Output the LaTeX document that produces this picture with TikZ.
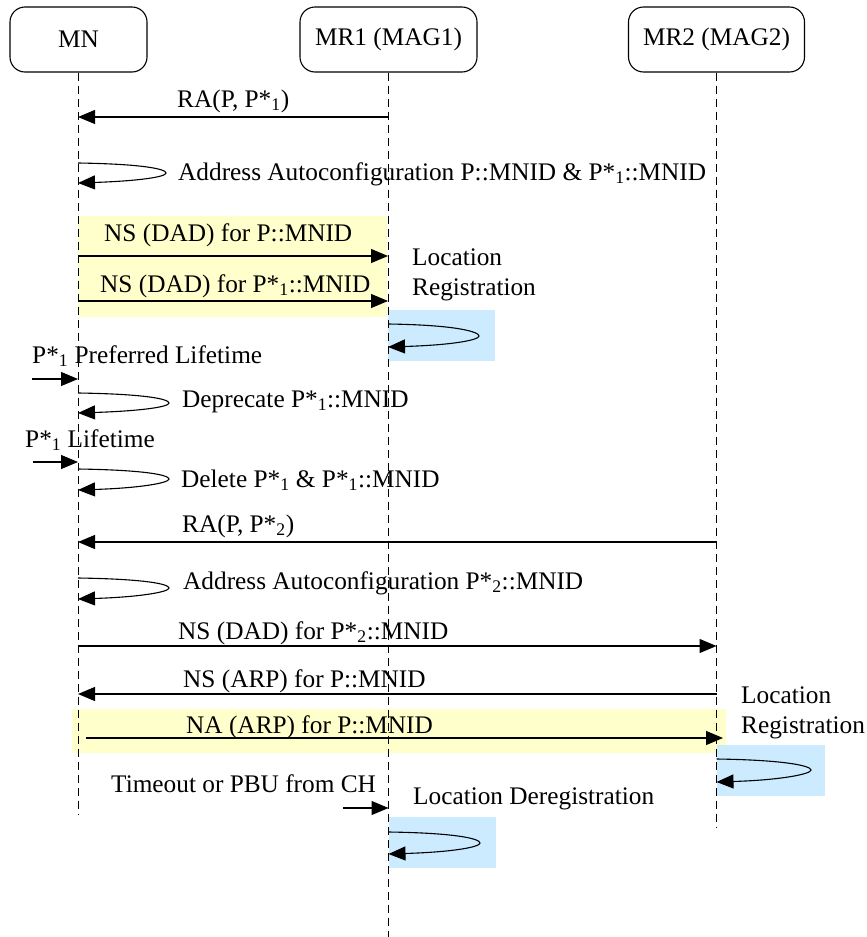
\documentclass[tikz,border=0pt]{standalone}
\usepackage{fontspec}
\setmainfont{Liberation Serif}
\usetikzlibrary{arrows.meta}
\newcommand{\lsub}[1]{\textsubscript{#1}}
\definecolor{hlyellow}{HTML}{FFFFCC}
\definecolor{hlblue}{HTML}{CCEBFF}
\begin{document}
\begin{tikzpicture}[x=1pt,y=-1pt,
  font=\fontsize{25.3}{30}\selectfont,
  head/.style={draw,rounded corners=15pt,line width=1.1pt,minimum height=65pt,inner sep=0pt},
  life/.style={line width=1pt,dash pattern=on 8pt off 5pt},
  msg/.style={line width=1.1pt,-{Triangle[length=17pt,width=14pt]}},
  lbl/.style={anchor=base west,inner sep=0pt},
  yband/.style={fill=hlyellow,draw=none},
  bband/.style={fill=hlblue,draw=none}]
\useasboundingbox (0,0) rectangle (867,937);
\fill[white] (0,0) rectangle (867,937);
% highlight bands
\path[yband] (78,216) rectangle (387,317);
\path[yband] (72,709) rectangle (726,753);
\path[bband] (388,310) rectangle (495,361);
\path[bband] (717,745) rectangle (825,796);
\path[bband] (389,817) rectangle (496,868);
% heads
\node[head,minimum width=137pt] (mn) at (78.5,39.5) {MN};
\node[head,minimum width=177pt] (mr1) at (388.5,39.5) {MR1 (MAG1)};
\node[head,minimum width=176pt] (mr2) at (716.5,39.5) {MR2 (MAG2)};
% lifelines
\coordinate (mnend) at (78.5,815);
\coordinate (mr1end) at (388.5,937);
\coordinate (mr2end) at (716.5,828);
\draw[life] (mn.south) -- (mnend);
\draw[life] (mr1.south) -- (mr1end);
\draw[life] (mr2.south) -- (mr2end);
% RA(P,P*1)
\coordinate (a1s) at (388,117); \coordinate (a1e) at (78,117);
\draw[msg] (a1s) -- (a1e);
\node[lbl] (t1) at (177,107) {RA(P, P*\lsub{1})};
% loop 1
\coordinate (l1a) at (78,163); \coordinate (l1t) at (166,173); \coordinate (l1b) at (78,183);
\draw[msg] (l1a) .. controls +(65,1) and +(0,-4) .. (l1t) .. controls +(0,4) and +(60,-2) .. (l1b);
\node[lbl] (t2) at (178,180) {Address Autoconfiguration P::MNID \& P*\lsub{1}::MNID};
% NS DAD
\coordinate (a2s) at (78,256); \coordinate (a2e) at (388,256);
\draw[msg] (a2s) -- (a2e);
\node[lbl] (t3) at (104,241) {NS (DAD) for P::MNID};
\coordinate (a3s) at (78,301); \coordinate (a3e) at (388,301);
\draw[msg] (a3s) -- (a3e);
\node[lbl] (t4) at (100,292) {NS (DAD) for P*\lsub{1}::MNID};
\node[lbl] (t5) at (412,265) {Location};
\node[lbl] (t6) at (412,295) {Registration};
% loop MR1
\coordinate (l2a) at (388,324); \coordinate (l2t) at (479,336); \coordinate (l2b) at (388,347);
\draw[msg] (l2a) .. controls +(70,1) and +(0,-4) .. (l2t) .. controls +(0,4) and +(65,-2) .. (l2b);
% preferred lifetime
\node[lbl] (t7) at (32,363) {P*\lsub{1} Preferred Lifetime};
\coordinate (e1s) at (32,379); \coordinate (e1e) at (78,379);
\draw[msg] (e1s) -- (e1e);
\coordinate (l3a) at (78,393); \coordinate (l3t) at (169,403); \coordinate (l3b) at (78,413);
\draw[msg] (l3a) .. controls +(67,1) and +(0,-4) .. (l3t) .. controls +(0,4) and +(62,-2) .. (l3b);
\node[lbl] (t8) at (182,407) {Deprecate P*\lsub{1}::MNID};
% lifetime
\node[lbl] (t9) at (25,447) {P*\lsub{1} Lifetime};
\coordinate (e2s) at (33,462); \coordinate (e2e) at (78,462);
\draw[msg] (e2s) -- (e2e);
\coordinate (l4a) at (78,469); \coordinate (l4t) at (169,479); \coordinate (l4b) at (78,490);
\draw[msg] (l4a) .. controls +(67,1) and +(0,-4) .. (l4t) .. controls +(0,4) and +(62,-2) .. (l4b);
\node[lbl] (t10) at (181,487) {Delete P*\lsub{1} \& P*\lsub{1}::MNID};
% RA(P,P*2)
\coordinate (a4s) at (716.5,542); \coordinate (a4e) at (78,542);
\draw[msg] (a4s) -- (a4e);
\node[lbl] (t11) at (182,532) {RA(P, P*\lsub{2})};
\coordinate (l5a) at (78,578); \coordinate (l5t) at (169,588); \coordinate (l5b) at (78,599);
\draw[msg] (l5a) .. controls +(67,1) and +(0,-4) .. (l5t) .. controls +(0,4) and +(62,-2) .. (l5b);
\node[lbl] (t12) at (183,589) {Address Autoconfiguration P*\lsub{2}::MNID};
% NS DAD P*2
\coordinate (a5s) at (78,646); \coordinate (a5e) at (716.5,646);
\draw[msg] (a5s) -- (a5e);
\node[lbl] (t13) at (178,639) {NS (DAD) for P*\lsub{2}::MNID};
% NS ARP
\coordinate (a6s) at (716.5,694); \coordinate (a6e) at (78,694);
\draw[msg] (a6s) -- (a6e);
\node[lbl] (t14) at (183,687) {NS (ARP) for P::MNID};
% NA ARP
\coordinate (a7s) at (86,738); \coordinate (a7e) at (723,738);
\draw[msg] (a7s) -- (a7e);
\node[lbl] (t15) at (186,733) {NA (ARP) for P::MNID};
\node[lbl] (t16) at (741,703) {Location};
\node[lbl] (t17) at (741,733) {Registration};
% loop MR2
\coordinate (l6a) at (716.5,759); \coordinate (l6t) at (811,770); \coordinate (l6b) at (716.5,782);
\draw[msg] (l6a) .. controls +(70,1) and +(0,-4) .. (l6t) .. controls +(0,4) and +(65,-2) .. (l6b);
% timeout
\node[lbl] (t18) at (111,792) {Timeout or PBU from CH};
\coordinate (e3s) at (343,808); \coordinate (e3e) at (388.5,808);
\draw[msg] (e3s) -- (e3e);
\node[lbl] (t19) at (413,804) {Location Deregistration};
\coordinate (l7a) at (388.5,832); \coordinate (l7t) at (480,843); \coordinate (l7b) at (388.5,854);
\draw[msg] (l7a) .. controls +(70,1) and +(0,-4) .. (l7t) .. controls +(0,4) and +(65,-2) .. (l7b);
\end{tikzpicture}
\end{document}
